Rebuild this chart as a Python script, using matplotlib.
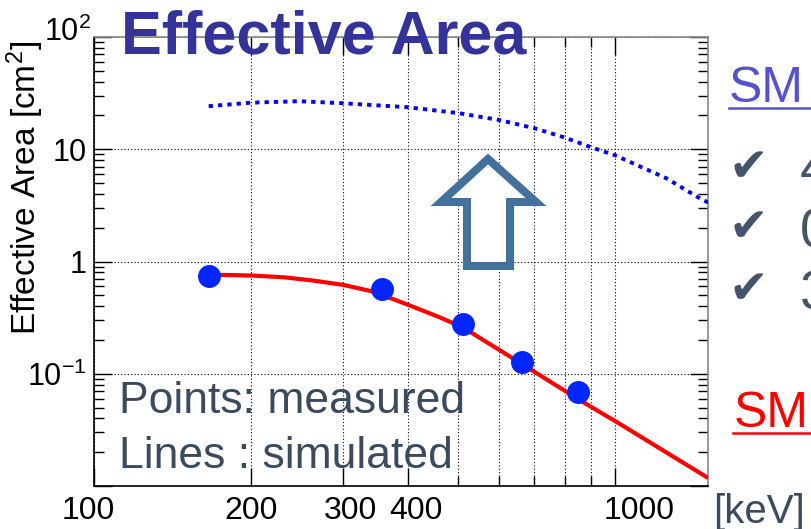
import matplotlib
matplotlib.use("Agg")
import matplotlib.pyplot as plt
from matplotlib.patches import Polygon
from matplotlib.lines import Line2D
import matplotlib.transforms as mtransforms

# ---------------- data ----------------
# measured points (keV, cm^2)
meas_energy = [166, 357, 511, 663, 849]
meas_area = [0.75, 0.57, 0.28, 0.128, 0.069]

# simulated (red, solid)
sim_red_energy = [166, 175, 201, 231, 263, 301, 343, 401, 461, 511, 663, 849, 1009, 1508]
sim_red_area = [0.76, 0.76, 0.75, 0.724, 0.677, 0.619, 0.54, 0.411, 0.318, 0.258,
                0.122, 0.0595, 0.037, 0.0118]

# simulated (blue, dotted)
sim_blue_energy = [166, 200, 248, 300, 399, 500, 600, 700, 797, 901, 1000, 1255, 1455, 1508]
sim_blue_area = [24.2, 26.0, 26.8, 25.7, 23.7, 21.0, 18.2, 15.4, 12.8, 10.4, 8.84, 5.51, 3.65, 3.36]

x_ticks = [100, 200, 300, 400, 1000]
x_tick_labels = ["100", "200", "300", "400", "1000"]
y_ticks = [0.01, 0.1, 1, 10, 100]
y_tick_labels = ["", r"$\mathregular{10^{-1}}$", "1", "10", r"$\mathregular{10^{2}}$"]

title_text = "Effective Area"
ylabel_text = r"Effective Area [cm$^{2}$]"
note_lines = ["Points: measured", "Lines : simulated"]
unit_text = "[keV]"

# ---------------- fonts ----------------
plt.rcParams["font.family"] = ["Liberation Sans", "DejaVu Sans"]
plt.rcParams["mathtext.fontset"] = "custom"
plt.rcParams["mathtext.rm"] = "Liberation Sans"
plt.rcParams["mathtext.it"] = "Liberation Sans:italic"
plt.rcParams["mathtext.bf"] = "Liberation Sans:bold"

W, H = 811, 529
fig = plt.figure(figsize=(W / 100, H / 100), dpi=100)
fig.patch.set_facecolor("white")

def fx(x):
    return x / W

def fy(y):
    return 1 - y / H

ax_l, ax_r, ax_t, ax_b = 94, 708, 37, 486
ax = fig.add_axes([fx(ax_l), fy(ax_b), (ax_r - ax_l) / W, (ax_b - ax_t) / H])
ax.set_xscale("log")
ax.set_yscale("log")
ax.set_xlim(100, 1508)
ax.set_ylim(0.01, 100)

# grid
ax.grid(True, which="major", axis="y", linestyle=(0, (1, 2)), color="black", linewidth=0.8)
ax.grid(True, which="both", axis="x", linestyle=(0, (1, 2)), color="black", linewidth=0.8)
ax.set_axisbelow(True)

# curves
ax.plot(sim_blue_energy, sim_blue_area, color="#0000ff", linewidth=2.8,
        linestyle=(0, (1.1, 1.3)), dash_capstyle="butt", zorder=3)
ax.plot(sim_red_energy, sim_red_area, color="#ff0000", linewidth=3.0, zorder=3,
        solid_joinstyle="round", solid_capstyle="butt")
ax.plot(meas_energy, meas_area, linestyle="none", marker="o", markersize=15.5,
        markerfacecolor="#0026ff", markeredgecolor="#0026ff", zorder=4)

# ticks
ax.set_xticks(x_ticks)
ax.set_xticklabels(x_tick_labels, fontsize=23)
ax.set_yticks(y_ticks)
ax.set_yticklabels(y_tick_labels, fontsize=22)
ax.tick_params(which="major", direction="in", length=13, width=1.0, top=True, right=True,
               color="black")
ax.tick_params(which="minor", direction="in", length=7, width=1.0, top=True, right=True,
               color="black")
ax.tick_params(axis="x", which="major", pad=7)
ax.tick_params(axis="y", which="major", pad=5)
ax.xaxis.set_minor_formatter(matplotlib.ticker.NullFormatter())
ax.yaxis.set_minor_formatter(matplotlib.ticker.NullFormatter())

# shift some labels like the reference
x_shift = {"100": -6, "300": 8, "400": 8, "1000": 24}
for lab in ax.get_xticklabels():
    dx = x_shift.get(lab.get_text(), 0)
    if dx:
        lab.set_transform(lab.get_transform() +
                          mtransforms.ScaledTranslation(dx / 100, 0, fig.dpi_scale_trans))
for lab in ax.get_yticklabels():
    if "10^{2}" in lab.get_text():
        lab.set_transform(lab.get_transform() +
                          mtransforms.ScaledTranslation(4 / 100, 8 / 100, fig.dpi_scale_trans))

for side in ["top", "right"]:
    ax.spines[side].set_color("#888888")
for side in ["left", "bottom"]:
    ax.spines[side].set_color("black")
for sp in ax.spines.values():
    sp.set_linewidth(1.2)

# y label
fig.text(fx(25), fy(188), ylabel_text, fontsize=24, color="black", rotation=90,
         ha="center", va="center")

# title
fig.text(fx(121), fy(53), title_text, fontsize=44, fontweight="bold", color="#333399",
         ha="left", va="baseline", zorder=10)

# notes
fig.text(fx(119), fy(413), note_lines[0], fontsize=32, color="#3b4a5e",
         ha="left", va="baseline", zorder=10)
fig.text(fx(119), fy(468), note_lines[1], fontsize=32, color="#3b4a5e",
         ha="left", va="baseline", zorder=10)

# hollow arrow
arrow_px = [(488, 159), (536, 202), (510, 202), (510, 266), (467, 266), (467, 202), (441, 202)]
arrow = Polygon([(fx(x), fy(y)) for x, y in arrow_px], closed=True, transform=fig.transFigure,
                facecolor="white", edgecolor="#41719c", linewidth=5.8, joinstyle="miter",
                zorder=5)
fig.patches.append(arrow)

# right-side slide text
fig.text(fx(729), fy(102), "SM", fontsize=36, color="#5353d0", ha="left", va="baseline")
fig.add_artist(Line2D([fx(729), fx(811)], [fy(108), fy(108)], transform=fig.transFigure,
                      color="#5353d0", linewidth=1.8))
for yb in [181, 241, 303]:
    fig.text(fx(729), fy(yb), "\u2714", fontsize=34, color="#44546a", ha="left",
             va="baseline", fontfamily="DejaVu Sans")
for yb, d in zip([186, 248, 310], ["4", "0", "3"]):
    fig.text(fx(800), fy(yb), d, fontsize=40, color="#44546a", ha="left", va="baseline")
fig.text(fx(734), fy(427), "SM", fontsize=36, color="#ff0000", ha="left", va="baseline")
fig.add_artist(Line2D([fx(733), fx(811)], [fy(433), fy(433)], transform=fig.transFigure,
                      color="#ff0000", linewidth=1.8))
fig.text(fx(713), fy(523), unit_text, fontsize=29, color="#3b4a5e", ha="left", va="baseline")

fig.savefig("out.png", dpi=100, facecolor="white")
